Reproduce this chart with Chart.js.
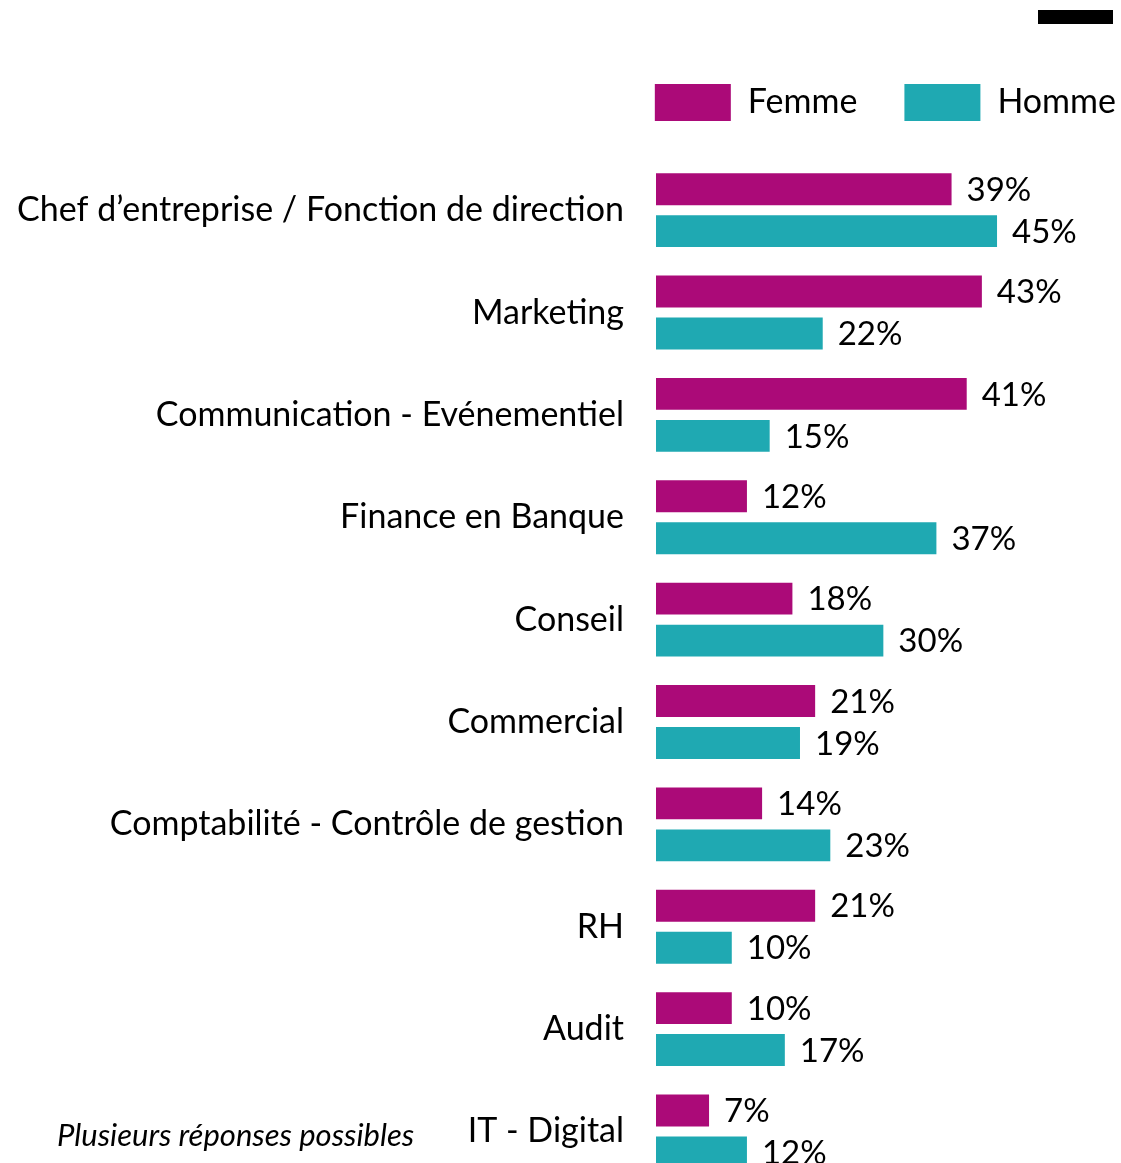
<!DOCTYPE html>
<html>
<head>
<meta charset="utf-8">
<script src="https://cdn.jsdelivr.net/npm/chart.js@4"></script>
<style>
  html, body { margin: 0; padding: 0; background: #fff; overflow: hidden; }
  #wrap { position: relative; width: 1121px; height: 1163px; overflow: hidden; }
  #topbar { position: absolute; left: 1038px; top: 10px; width: 75px; height: 14px; background: #000; }
  #note { position: absolute; left: 57px; top: 1115px; line-height: 36px; font: italic 31px Lato, sans-serif; color: #000; }
</style>
</head>
<body>
<div id="wrap">
  <canvas id="chart" width="1163" height="1235"></canvas>
  <div id="topbar"></div>
  <div id="note">Plusieurs réponses possibles</div>
</div>
<script>
const categories = [
    "Chef d’entreprise / Fonction de direction",
    "Marketing",
    "Communication - Evénementiel",
    "Finance en Banque",
    "Conseil",
    "Commercial",
    "Comptabilité - Contrôle de gestion",
    "RH",
    "Audit",
    "IT - Digital"
];
const femme = [39, 43, 41, 12, 18, 21, 14, 21, 10, 7];
const homme = [45, 22, 15, 37, 30, 19, 23, 10, 17, 12];

const FONT = 'Lato, "Open Sans", sans-serif';

// pousse la zone du graphique sous la légende
const legendSpace = {
    id: 'legendSpace',
    beforeInit(chart) {
        const fit = chart.legend.fit;
        chart.legend.fit = function () {
            fit.call(this);
            this.height += 28;
        };
    }
};

// étiquettes de valeur à droite des barres
const valueLabels = {
    id: 'valueLabels',
    afterDatasetsDraw(chart) {
        const ctx = chart.ctx;
        ctx.save();
        ctx.font = '33px ' + FONT;
        ctx.fillStyle = '#000';
        ctx.textAlign = 'left';
        ctx.textBaseline = 'middle';
        chart.data.datasets.forEach((ds, di) => {
            chart.getDatasetMeta(di).data.forEach((el, i) => {
                ctx.fillText(ds.data[i] + '%', el.x + 15, el.y + 1);
            });
        });
        ctx.restore();
    }
};

new Chart(document.getElementById('chart'), {
    type: 'bar',
    data: {
        labels: categories,
        datasets: [
            { label: 'Femme', data: femme, backgroundColor: '#AB0A78', borderWidth: 0 },
            { label: 'Homme', data: homme, backgroundColor: '#1FA9B2', borderWidth: 0 }
        ]
    },
    options: {
        indexAxis: 'y',
        responsive: false,
        animation: false,
        devicePixelRatio: 1,
        categoryPercentage: 0.82,
        barPercentage: 0.76,
        layout: { padding: { top: 37, right: 0, bottom: 1, left: 0 } },
        plugins: {
            legend: {
                position: 'top',
                align: 'end',
                labels: {
                    boxWidth: 76,
                    boxHeight: 37,
                    padding: 47,
                    color: '#000',
                    font: { family: FONT, size: 34 }
                }
            },
            tooltip: { enabled: false }
        },
        scales: {
            x: {
                display: false,
                min: 0,
                max: 66.9
            },
            y: {
                grid: { display: false, drawTicks: false },
                border: { display: false },
                ticks: {
                    autoSkip: false,
                    padding: 32,
                    color: '#000',
                    font: { family: FONT, size: 34 }
                },
                afterFit(scale) { scale.width = 656; }
            }
        }
    },
    plugins: [legendSpace, valueLabels]
});
</script>
</body>
</html>
